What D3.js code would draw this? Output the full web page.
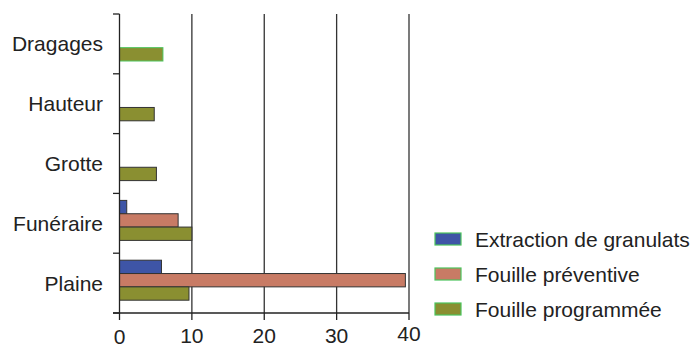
<!DOCTYPE html>
<html>
<head>
<meta charset="utf-8">
<script src="https://cdn.jsdelivr.net/npm/d3@7"></script>
<style>
  html, body { margin: 0; padding: 0; background: #fff; }
  svg { display: block; }
  text { font-family: "Liberation Sans", Arial, sans-serif; fill: #222; }
</style>
</head>
<body>
<svg id="chart" width="693" height="348"></svg>
<script>
const categories = ["Dragages", "Hauteur", "Grotte", "Funéraire", "Plaine"];
const seriesNames = ["Extraction de granulats", "Fouille préventive", "Fouille programmée"];
const extraction = [0, 0, 0, 1, 5.8];
const preventive = [0, 0, 0, 8.1, 39.5];
const programmee = [6, 4.8, 5.1, 10, 9.6];
const xTicks = [0, 10, 20, 30, 40];

const colors = ["#3e55a6", "#c87b65", "#8a8f31"];
const seriesValues = [extraction, preventive, programmee];

const svg = d3.select("#chart");
const x = d3.scaleLinear().domain([0, 40]).range([119.5, 409]);
const y = d3.scaleBand().domain(categories).range([14, 313]);
const y1 = d3.scaleBand().domain(seriesNames).range([0, 40]);
const barOffset = 7;

// gridlines
svg.append("g")
  .selectAll("line")
  .data(xTicks.slice(1))
  .join("line")
  .attr("x1", d => x(d)).attr("x2", d => x(d))
  .attr("y1", 14).attr("y2", 313)
  .attr("stroke", "#333").attr("stroke-width", 1.3);

// bars
const rows = [];
categories.forEach((c, i) => {
  seriesNames.forEach((s, j) => {
    const v = seriesValues[j][i];
    if (v > 0) rows.push({ c, s, j, v });
  });
});
svg.append("g")
  .selectAll("rect")
  .data(rows)
  .join("rect")
  .attr("x", x(0))
  .attr("y", d => y(d.c) + barOffset + y1(d.s))
  .attr("width", d => x(d.v) - x(0))
  .attr("height", y1.bandwidth())
  .attr("fill", d => colors[d.j])
  .attr("stroke", d => d.c === "Dragages" ? "#4cc45c" : "#333")
  .attr("stroke-width", 1);

// left axis
const leftAxis = svg.append("g").attr("transform", `translate(${x(0)},0)`);
leftAxis.append("line").attr("x1", 0).attr("x2", 0).attr("y1", 14).attr("y2", 313)
  .attr("stroke", "#222").attr("stroke-width", 1.3);
const bounds = categories.map(c => y(c)).concat([y.range()[1]]);
leftAxis.selectAll("line.tick").data(bounds).join("line").attr("class", "tick")
  .attr("x1", -6.5).attr("x2", 0).attr("y1", d => d).attr("y2", d => d)
  .attr("stroke", "#222").attr("stroke-width", 1.3);

svg.append("g")
  .selectAll("text")
  .data(categories)
  .join("text")
  .attr("x", 103)
  .attr("y", d => y(d) + y.bandwidth() / 2 + 7.5)
  .attr("text-anchor", "end")
  .attr("font-size", 21)
  .text(d => d);

// bottom axis
const bottom = svg.append("g").attr("transform", "translate(0,313)");
bottom.append("line").attr("x1", x(0) - 6.5).attr("x2", x(40)).attr("y1", 0).attr("y2", 0)
  .attr("stroke", "#222").attr("stroke-width", 1.3);
bottom.selectAll("line.tick").data(xTicks).join("line").attr("class", "tick")
  .attr("x1", d => x(d)).attr("x2", d => x(d)).attr("y1", 0).attr("y2", 7)
  .attr("stroke", "#222").attr("stroke-width", 1.3);
bottom.selectAll("text").data(xTicks).join("text")
  .attr("x", d => x(d))
  .attr("y", (d, i) => i === 0 ? 30.5 : (i === 4 ? 28 : 30))
  .attr("text-anchor", "middle")
  .attr("font-size", 21)
  .text(d => d);

// legend
const legend = svg.append("g").attr("transform", "translate(435,239)");
const li = legend.selectAll("g").data(seriesNames).join("g")
  .attr("transform", (d, i) => `translate(0,${i * 35})`);
li.append("rect").attr("x", 0).attr("y", -6).attr("width", 26).attr("height", 12)
  .attr("fill", (d, i) => colors[i]).attr("stroke", "#4cc45c").attr("stroke-width", 1.2);
li.append("text").attr("x", 40).attr("y", 7.5).attr("font-size", 21).text(d => d);
</script>
</body>
</html>
